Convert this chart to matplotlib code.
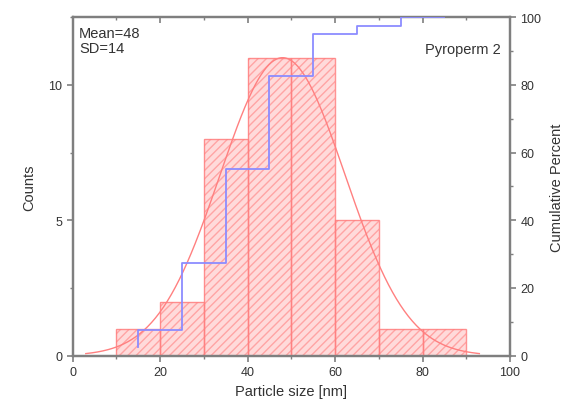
import numpy as np
import matplotlib
matplotlib.use("Agg")
import matplotlib.pyplot as plt
from matplotlib.ticker import MultipleLocator

plt.rcParams['font.family'] = ['Liberation Sans', 'DejaVu Sans']
plt.rcParams['hatch.linewidth'] = 1.0

bin_left = [10, 20, 30, 40, 50, 60, 70, 80]
counts = [1, 2, 8, 11, 11, 5, 1, 1]
cum_x = [15, 25, 35, 45, 55, 65, 75, 85]
cum_pct = [2.5, 7.5, 27.5, 55, 82.5, 95, 97.5, 100]
fit_mean = 48
fit_sd = 14.3
fit_peak = 11.0

fig = plt.figure(figsize=(5.66, 4.10), dpi=100)
ax = fig.add_axes([0.1284, 0.13, 0.7726, 0.826])
ax2 = ax.twinx()

grey = '#7f7f7f'
txt = '#333333'

ax.bar(bin_left, counts, width=10, align='edge', facecolor='#ffdada',
       edgecolor='#ffa4a4', hatch='////', linewidth=0, zorder=2)
ax.bar(bin_left, counts, width=10, align='edge', fill=False,
       edgecolor='#ff8080', linewidth=1.0, alpha=0.85, zorder=3)

xf = np.linspace(3, 93, 300)
yf = fit_peak * np.exp(-(xf - fit_mean) ** 2 / (2 * fit_sd ** 2))
ax.plot(xf, yf, color='#ff8080', lw=1.0, zorder=4)

ax2.plot(cum_x, cum_pct, drawstyle='steps-pre', color='#8c8cff', lw=1.3, zorder=5)

ax.set_xlim(0, 100)
ax.set_ylim(0, 12.5)
ax2.set_ylim(0, 100)

for a in (ax, ax2):
    for s in a.spines.values():
        s.set_color(grey)
        s.set_linewidth(1.6)

ax.xaxis.set_major_locator(MultipleLocator(20))
ax.xaxis.set_minor_locator(MultipleLocator(10))
ax.yaxis.set_major_locator(MultipleLocator(5))
ax.yaxis.set_minor_locator(MultipleLocator(2.5))
ax2.yaxis.set_major_locator(MultipleLocator(20))
ax2.yaxis.set_minor_locator(MultipleLocator(10))

ax.tick_params(axis='x', which='both', direction='out', colors=grey, labelcolor=txt,
               labelsize=9, top=False)
ax.tick_params(axis='x', which='major', length=4, width=1.2)
ax.tick_params(axis='x', which='minor', length=2.5, width=1.0)
ax.tick_params(axis='y', which='both', direction='out', colors=grey, labelcolor=txt,
               labelsize=9)
ax.tick_params(axis='y', which='major', length=4, width=1.2)
ax.tick_params(axis='y', which='minor', length=2.5, width=1.0)
ax2.tick_params(axis='y', which='both', direction='out', colors=grey, labelcolor=txt,
                labelsize=9)
ax2.tick_params(axis='y', which='major', length=4, width=1.2)
ax2.tick_params(axis='y', which='minor', length=2.5, width=1.0)

# top ticks inward
secx = ax.secondary_xaxis('top')
secx.xaxis.set_major_locator(MultipleLocator(20))
secx.xaxis.set_minor_locator(MultipleLocator(10))
secx.tick_params(which='both', direction='in', colors=grey, labeltop=False)
secx.tick_params(which='major', length=4, width=1.2)
secx.tick_params(which='minor', length=2.5, width=1.0)
secx.spines['top'].set_visible(False)

ax.set_xlabel('Particle size [nm]', fontsize=10.5, color=txt, labelpad=4)
ax.set_ylabel('Counts', fontsize=10.5, color=txt, labelpad=9)
ax2.set_ylabel('Cumulative Percent', fontsize=10.5, color=txt, labelpad=6)

ax.text(0.015, 0.975, 'Mean=48\nSD=14', transform=ax.transAxes, ha='left', va='top',
        fontsize=10.5, color=txt, linespacing=1.15)
ax.text(0.98, 0.925, 'Pyroperm 2', transform=ax.transAxes, ha='right', va='top',
        fontsize=10.5, color=txt)

ax.set_zorder(ax2.get_zorder() - 1)
ax.patch.set_visible(True)
ax2.patch.set_visible(False)

fig.savefig('out.png', dpi=100)
